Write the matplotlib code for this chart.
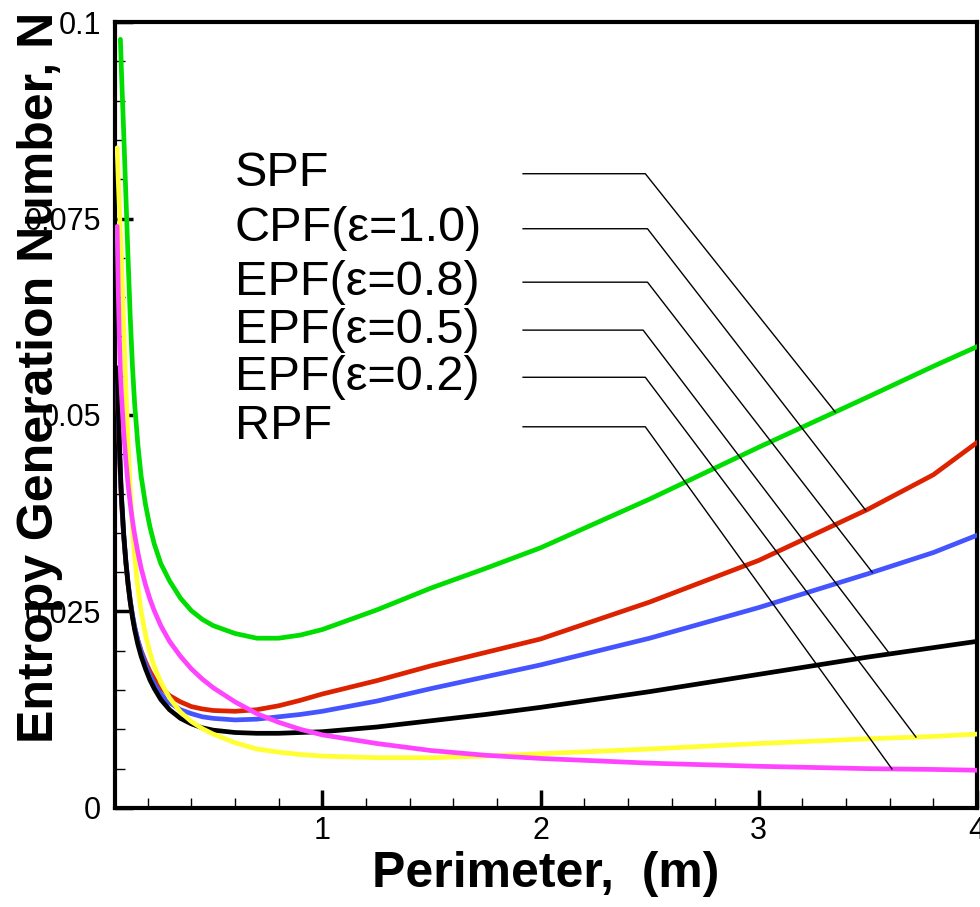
import numpy as np
import matplotlib.pyplot as plt
from matplotlib.ticker import MultipleLocator

plt.rcParams['font.family'] = ['Liberation Sans', 'DejaVu Sans']

# perimeter (m) sampling points
perimeter = [0.06, 0.065, 0.07, 0.075, 0.08, 0.09, 0.1, 0.11, 0.12, 0.13,
             0.14, 0.155, 0.17, 0.19, 0.21, 0.23, 0.26, 0.3, 0.35, 0.4,
             0.45, 0.5, 0.6, 0.7, 0.8, 0.9, 1.0, 1.25, 1.5, 1.75,
             2.0, 2.5, 3.0, 3.5, 3.8, 4.0]

# entropy generation number for each profile
spf = [np.nan, np.nan, np.nan, 0.0978, 0.0935, 0.0860, 0.0780, 0.0700, 0.0625, 0.0563,
       0.0515, 0.0462, 0.0422, 0.0386, 0.0358, 0.0336, 0.0311, 0.0289, 0.0267, 0.0251,
       0.0240, 0.0232, 0.0222, 0.0216, 0.0216, 0.0220, 0.0227, 0.0252, 0.0280, 0.0305,
       0.0331, 0.0393, 0.0459, 0.0523, 0.0562, 0.0587]
cpf_10 = [0.0550, 0.0500, 0.0458, 0.0420, 0.0390, 0.0345, 0.0312, 0.0285, 0.0263, 0.0245,
          0.0230, 0.0213, 0.0200, 0.0186, 0.0174, 0.0164, 0.0153, 0.0143, 0.0135, 0.0129,
          0.0126, 0.0124, 0.0123, 0.0125, 0.0130, 0.0137, 0.0145, 0.0162, 0.0181, 0.0198,
          0.0215, 0.0262, 0.0315, 0.0380, 0.0424, 0.0465]
epf_08 = [0.0555, 0.0505, 0.0462, 0.0425, 0.0394, 0.0348, 0.0314, 0.0287, 0.0264, 0.0246,
          0.0231, 0.0213, 0.0199, 0.0183, 0.0169, 0.0158, 0.0145, 0.0134, 0.0125, 0.0120,
          0.0116, 0.0114, 0.0112, 0.0113, 0.0116, 0.0119, 0.0123, 0.0136, 0.0152, 0.0167,
          0.0182, 0.0216, 0.0255, 0.0298, 0.0325, 0.0347]
epf_05 = [0.0560, 0.0510, 0.0465, 0.0428, 0.0396, 0.0349, 0.0313, 0.0285, 0.0262, 0.0243,
          0.0227, 0.0208, 0.0193, 0.0177, 0.0163, 0.0152, 0.0138, 0.0125, 0.0114, 0.0107,
          0.0102, 0.0099, 0.0096, 0.0095, 0.0095, 0.0096, 0.0097, 0.0103, 0.0111, 0.0119,
          0.0128, 0.0148, 0.0170, 0.0192, 0.0204, 0.0212]
epf_02 = [0.0840, 0.0800, 0.0765, 0.0730, 0.0695, 0.0615, 0.0535, 0.0465, 0.0405, 0.0357,
          0.0320, 0.0280, 0.0250, 0.0220, 0.0198, 0.0180, 0.0160, 0.0140, 0.0122, 0.0110,
          0.0101, 0.0094, 0.0083, 0.0075, 0.0071, 0.0068, 0.0066, 0.0064, 0.0064, 0.0066,
          0.0069, 0.0075, 0.0082, 0.0088, 0.0091, 0.0094]
rpf = [0.0740, 0.0660, 0.0600, 0.0555, 0.0525, 0.0478, 0.0442, 0.0412, 0.0387, 0.0366,
       0.0348, 0.0325, 0.0305, 0.0284, 0.0266, 0.0251, 0.0232, 0.0212, 0.0193, 0.0177,
       0.0164, 0.0153, 0.0135, 0.0120, 0.0109, 0.0100, 0.0093, 0.0082, 0.0073, 0.0067,
       0.0063, 0.0057, 0.0053, 0.0050, 0.0049, 0.0048]

labels = ['SPF', 'CPF(\u03b5=1.0)', 'EPF(\u03b5=0.8)', 'EPF(\u03b5=0.5)', 'EPF(\u03b5=0.2)', 'RPF']
series = [spf, cpf_10, epf_08, epf_05, epf_02, rpf]
colors = ['#00dd00', '#dd2200', '#4455ff', '#000000', '#ffff33', '#ff44ff']

# leader lines: horizontal level, start / bend x, and x where it meets the curve
leader_y = [0.0807, 0.0737, 0.0669, 0.0608, 0.0548, 0.0485]
leader_x0 = 1.92
leader_bend = [2.48, 2.49, 2.49, 2.47, 2.48, 2.48]
leader_end = [3.35, 3.49, 3.52, 3.60, 3.72, 3.61]

fig = plt.figure(figsize=(9.8, 9.07), dpi=100)
ax = fig.add_axes([0.1173, 0.1092, 0.8797, 0.8665])

x = np.array(perimeter)
for i in range(6):
    ax.plot(x, series[i], color=colors[i], lw=3.4, solid_joinstyle='round',
            solid_capstyle='round', zorder=3)

for i in range(6):
    yend = np.interp(leader_end[i], x, series[i])
    ax.plot([leader_x0, leader_bend[i], leader_end[i]], [leader_y[i], leader_y[i], yend],
            color='black', lw=1.0, zorder=4)
    ax.text(0.6, leader_y[i], labels[i], fontsize=35, va='center', ha='left', zorder=5)

ax.set_xlim(0.05, 4.0)
ax.set_ylim(0, 0.1)
ax.xaxis.set_minor_locator(MultipleLocator(0.2))
ax.yaxis.set_minor_locator(MultipleLocator(0.005))
ax.set_yticks([0, 0.025, 0.05, 0.075, 0.1])
ax.set_yticklabels(['0', '0.025', '0.05', '0.075', '0.1'])
ax.set_xticks([1, 2, 3, 4])
ax.set_xticklabels(['1', '2', '3', '4'])

ax.tick_params(which='major', direction='in', length=13, width=2.5, labelsize=22,
               top=False, right=False)
ax.tick_params(which='minor', direction='in', length=7, width=1, top=False, right=False)
ax.tick_params(axis='y', pad=10)
ax.tick_params(axis='x', pad=6)

for s in ax.spines.values():
    s.set_linewidth(3)

ax.set_xlabel('Perimeter,  (m)', fontsize=36, fontweight='bold')
ax.xaxis.set_label_coords(0.5, -0.055)
fig.text(40 / 980, 1 - 377 / 907, 'Entropy Generation Number, N', fontsize=36,
         fontweight='bold', rotation=90, ha='center', va='center', zorder=10)

fig.savefig('out.png', dpi=100)
